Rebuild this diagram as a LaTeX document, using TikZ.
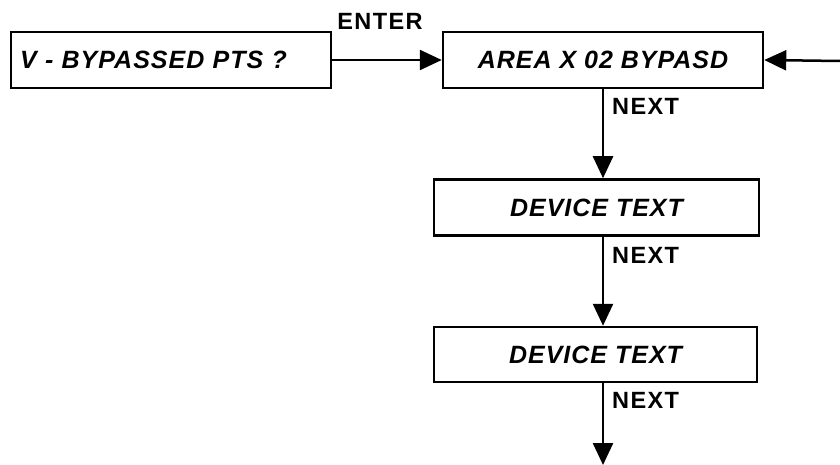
\documentclass[tikz,border=0pt]{standalone}
\usepackage{fontspec}
\setmainfont{Liberation Sans}
\newfontfamily\boxfont[LetterSpace=4]{Liberation Sans}
\newfontfamily\keyfont[LetterSpace=6]{Liberation Sans}
\usetikzlibrary{arrows.meta}

\tikzset{
  menubox/.style={draw, line width=2.5pt, minimum height=56pt, inner sep=0pt,
    font=\boxfont\fontsize{25}{29}\selectfont\bfseries\itshape},
  keylabel/.style={inner sep=0pt, font=\keyfont\fontsize{23.5}{27}\selectfont\bfseries},
  flow/.style={line width=2.5pt, -{Triangle[length=22pt,width=20pt]}}
}

\begin{document}
\begin{tikzpicture}[x=1pt, y=-1pt]
                \useasboundingbox (0, 0) rectangle (840, 465);
                \node [menubox, minimum width=320pt, text width=302pt, align=left] (prompt) at (171, 60) {V - BYPASSED PTS ?};
                \node [menubox, minimum width=320pt] (area) at (603, 60) {AREA X 02 BYPASD};
                \node [menubox, minimum width=325pt] (dev1) at (596.5, 207.5) {DEVICE TEXT};
                \node [menubox, minimum width=323pt, minimum height=55pt] (dev2) at (595.5, 354.5) {DEVICE TEXT};
                \coordinate (feed) at (840, 61);
                \coordinate (more) at (602, 465);
                \draw [flow] (prompt) -- (area);
                \node [keylabel] (enter) at (380, 21) {ENTER};
                \draw [flow] (feed) -- (area.east);
                \draw [flow] (area.south) -- (area.south |- dev1.north);
                \node [keylabel, anchor=west] (next1) at (612, 106) {NEXT};
                \draw [flow] (area.south |- dev1.south) -- (area.south |- dev2.north);
                \node [keylabel, anchor=west] (next2) at (612, 255) {NEXT};
                \draw [flow] (area.south |- dev2.south) -- (area.south |- more);
                \node [keylabel, anchor=west] (next3) at (612, 400) {NEXT};
            \end{tikzpicture}
\end{document}
